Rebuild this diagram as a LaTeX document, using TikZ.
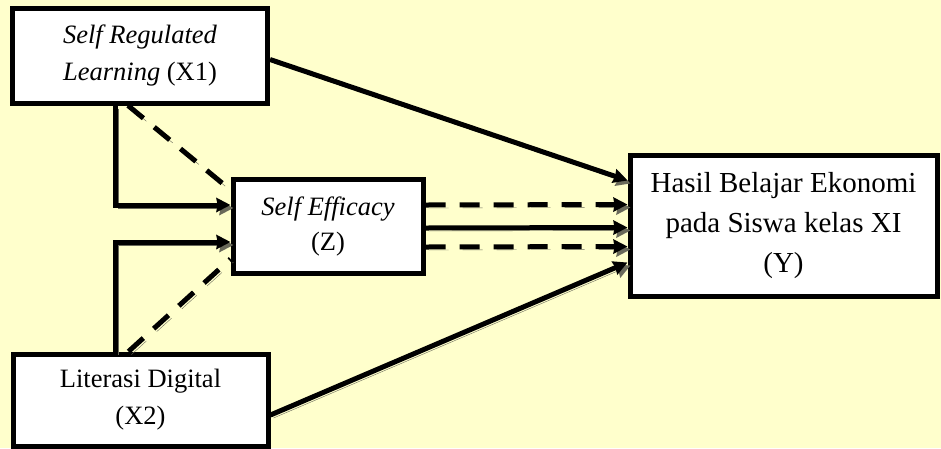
\documentclass[tikz,border=0pt]{standalone}
\usepackage{fontspec}
\setmainfont{Liberation Serif}
\usetikzlibrary{arrows.meta,calc,positioning}
\definecolor{bgyellow}{RGB}{255,255,204}
\definecolor{shadowgray}{RGB}{105,105,90}

\begin{document}
\begin{tikzpicture}[x=1pt,y=1pt,>=Stealth,
  varbox/.style={draw,line width=5pt,fill=white,align=center,inner sep=0pt,
    font=\fontsize{26.5}{37}\selectfont},
  shade/.style={preaction={draw=shadowgray,transform canvas={shift={(3pt,-3pt)}}}},
  dshade/.style={preaction={draw=shadowgray,dash pattern=on 20pt off 14pt,
    transform canvas={shift={(3pt,-3pt)}}}},
  link/.style={line width=5pt,shade,-{Stealth[length=14pt,width=14pt,inset=1pt]}},
  dashline/.style={line width=5pt,dash pattern=on 20pt off 14pt,dshade},
  dashlink/.style={line width=5pt,dash pattern=on 20pt off 14pt,dshade,
    -{Stealth[length=14pt,width=14pt,inset=1pt]}}]
  \fill[bgyellow] (0,0) rectangle (941,-448);
  \useasboundingbox (0,0) rectangle (941,-448);
  % variables
  \node[varbox,minimum width=255pt,minimum height=95pt] (X1) at (140,-55.5)
    {\textit{Self Regulated}\\\textit{Learning} (X1)};
  \node[varbox,minimum width=255pt,minimum height=92pt] (X2) at (140.5,-400)
    {Literasi Digital\\(X2)};
  \node[varbox,minimum width=190pt,minimum height=94pt] (Z) at (328,-226)
    {\textit{Self Efficacy}\\[-2pt](Z)};
  \node[varbox,minimum width=307pt,minimum height=141pt,
    font=\fontsize{29}{40}\selectfont] (Y) at (783.5,-225.5)
    {Hasil Belajar Ekonomi\\pada Siswa kelas XI\\(Y)};
  % direct paths
  \draw[link] ([yshift=-4pt]X1.east) -- ([yshift=45pt]Y.west);
  \draw[link] ([yshift=-15pt]X2.east) -- ([yshift=-37pt]Y.west);
  \draw[link] ([xshift=-25pt]X1.south) |- ([yshift=21pt]Z.west);
  \draw[link] ([xshift=-25pt]X2.north) |- ([yshift=-16pt]Z.west);
  % mediated paths
  \draw[dashline] ([xshift=-12pt]X1.south) -- ([yshift=36pt]Z.west);
  \draw[dashline] ([xshift=-12pt]X2.north) -- ([yshift=-33pt]Z.west);
  \draw[dashlink] ([yshift=21pt]Z.east) -- ([yshift=21pt]Y.west);
  \draw[link] ([yshift=-2pt]Z.east) -- ([yshift=-2pt]Y.west);
  \draw[dashlink] ([yshift=-21pt]Z.east) -- ([yshift=-21pt]Y.west);
\end{tikzpicture}
\end{document}
